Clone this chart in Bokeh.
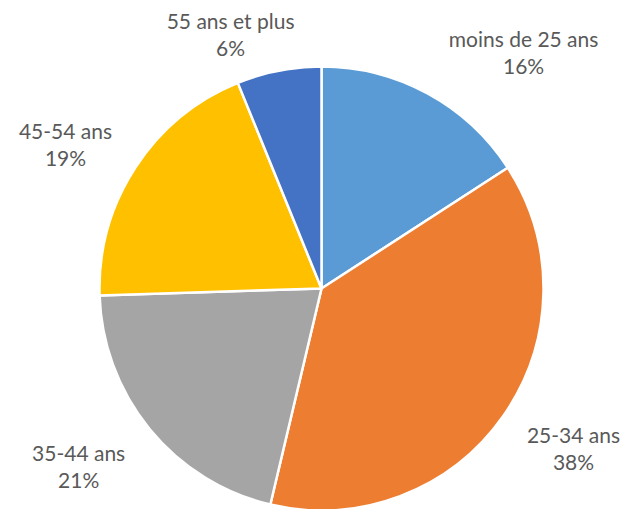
import math
from bokeh.plotting import figure
from bokeh.models import Range1d, ColumnDataSource
from bokeh.core.properties import value
from bokeh.embed import file_html
from bokeh.resources import INLINE

# ---- data ----
categories = ["moins de 25 ans", "25-34 ans", "35-44 ans", "45-54 ans", "55 ans et plus"]
shares = [15.85, 37.85, 20.8, 19.35, 6.15]
colors = ["#5B9BD5", "#ED7D31", "#A5A5A5", "#FFC000", "#4472C4"]
pct_labels = ["%d%%" % round(s) for s in shares]

# ---- layout (pixel-like data units, pie centre at 0,0) ----
W, H = 637, 509
CX, CY = 321, 288      # pie centre within the window
OX, OY = 0, 0          # where the figure lands in the window
R = 222
label_dx = [96.5, 71.4, -71.7, -70.7, -48.5]
label_dy = [42.3, -32.6, -37.3, 24.1, 37.7]   # positive = upward
line_gap = 13.5

total = sum(shares)
starts, ends, lx, ly = [], [], [], []
cum = 0.0
for i, s in enumerate(shares):
    a0 = math.pi / 2 - 2 * math.pi * cum / total
    cum += s
    a1 = math.pi / 2 - 2 * math.pi * cum / total
    starts.append(a0)
    ends.append(a1)
    mid = (a0 + a1) / 2
    lx.append(221 * math.cos(mid) + label_dx[i])
    ly.append(221 * math.sin(mid) + label_dy[i])

src = ColumnDataSource(dict(start=starts, end=ends, color=colors, cat=categories))

p = figure(width=W, height=H, output_backend="svg", toolbar_location=None,
           x_range=Range1d(OX - CX, OX + W - CX), y_range=Range1d(CY - OY - H, CY - OY),
           min_border=0)
p.axis.visible = False
p.grid.visible = False
p.outline_line_color = None
p.background_fill_color = "white"
p.border_fill_color = "white"

p.wedge(x=0, y=0, radius=R, start_angle="start", end_angle="end", direction="clock",
        fill_color="color", line_color="white", line_width=2.5, source=src)

lsrc = ColumnDataSource(dict(x=lx, y1=[y + line_gap for y in ly], y2=[y - line_gap for y in ly],
                             cat=categories, pct=pct_labels))
common = dict(text_font=value("Lato"), text_font_size="21px", text_color="#595959",
              text_align="center", text_baseline="middle", source=lsrc)
p.text(x="x", y="y1", text="cat", **common)
p.text(x="x", y="y2", text="pct", **common)

open("out.html", "w").write(file_html(p, INLINE))
